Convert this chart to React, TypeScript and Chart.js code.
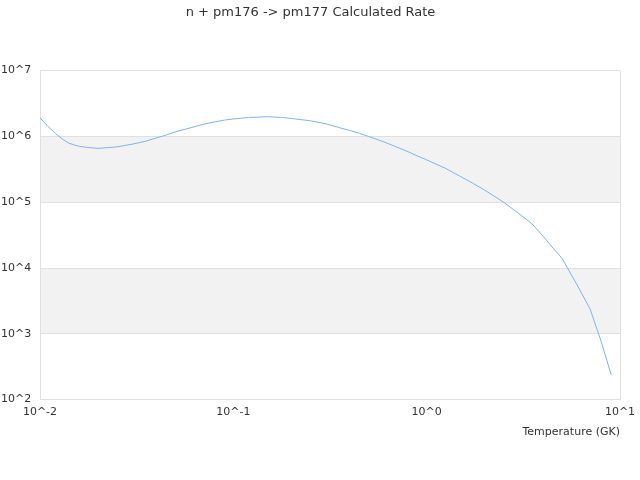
import { useEffect, useRef } from "react"
import { Chart, registerables } from "chart.js"

Chart.register(...registerables)

// temperatura em GK e taxa calculada
const temperatures = [
  0.01, 0.011, 0.012, 0.013, 0.014, 0.015, 0.016, 0.018, 0.02, 0.025, 0.03, 0.035, 0.04, 0.045, 0.05,
  0.06, 0.07, 0.08, 0.09, 0.1, 0.12, 0.15, 0.18, 0.2, 0.25, 0.3, 0.35, 0.4, 0.45, 0.5, 0.6, 0.7, 0.8,
  0.9, 1, 1.25, 1.5, 1.75, 2, 2.5, 3, 3.5, 4, 4.5, 5, 6, 7, 8, 9,
]
const rates = [
  1.91e6, 1.42e6, 1.11e6, 9.2e5, 7.97e5, 7.44e5, 7.05e5, 6.74e5, 6.58e5, 6.93e5, 7.62e5, 8.4e5, 9.48e5,
  1.05e6, 1.17e6, 1.35e6, 1.53e6, 1.66e6, 1.77e6, 1.84e6, 1.94e6, 1.99e6, 1.94e6, 1.87e6, 1.73e6, 1.56e6,
  1.37e6, 1.23e6, 1.11e6, 1.0e6, 8.26e5, 6.89e5, 5.86e5, 5.01e5, 4.4e5, 3.27e5, 2.45e5, 1.91e5, 1.52e5,
  1.0e5, 6.7e4, 4.72e4, 3.05e4, 2.01e4, 1.42e4, 5.53e3, 2.39e3, 7.57e2, 2.39e2,
]
const xPowers = [-2, -1, 0, 1]
const yPowers = [2, 3, 4, 5, 6, 7]
const shadedBands = [
  [1e3, 1e4],
  [1e5, 1e6],
]

const bandPlugin = {
  id: "bands",
  beforeDraw(chart: any) {
    const { ctx, chartArea, scales } = chart
    ctx.save()
    ctx.fillStyle = "#f2f2f2"
    for (const [lo, hi] of shadedBands) {
      const top = scales.y.getPixelForValue(hi)
      const bottom = scales.y.getPixelForValue(lo)
      ctx.fillRect(chartArea.left, top, chartArea.right - chartArea.left, bottom - top)
    }
    ctx.restore()
  },
}

export default function App() {
  const chartRef = useRef<HTMLCanvasElement>(null)
  const chartInstance = useRef<Chart | null>(null)

  useEffect(() => {
    if (!chartRef.current) return
    if (chartInstance.current) chartInstance.current.destroy()

    Chart.defaults.font.family = "DejaVu Sans"
    Chart.defaults.color = "#333"

    chartInstance.current = new Chart(chartRef.current, {
      type: "line",
      data: {
        datasets: [
          {
            data: temperatures.map((t, i) => ({ x: t, y: rates[i] })),
            borderColor: "#7cb5ec",
            borderWidth: 1,
            pointRadius: 0,
            tension: 0,
          },
        ],
      },
      options: {
        animation: false,
        responsive: true,
        maintainAspectRatio: false,
        layout: { padding: { left: 1, right: 20, bottom: 37 } },
        plugins: {
          legend: { display: false },
          tooltip: { enabled: false },
          title: {
            display: true,
            text: "n + pm176 -> pm177 Calculated Rate",
            font: { size: 13, weight: "normal" },
            color: "#333",
            padding: { top: 5, bottom: 50 },
          },
        },
        scales: {
          x: {
            type: "logarithmic",
            min: 0.01,
            max: 10,
            afterBuildTicks: (scale: any) => {
              scale.ticks = xPowers.map((p) => ({ value: Math.pow(10, p) }))
            },
            afterFit: (scale: any) => {
              scale.paddingLeft = 0
              scale.paddingRight = 0
            },
            ticks: {
              autoSkip: false,
              maxRotation: 0,
              padding: 6,
              font: { size: 11 },
              callback: (v: any) => "10^" + Math.round(Math.log10(Number(v))),
            },
            grid: {
              drawTicks: false,
              color: (c: any) => (c.index === 0 || c.index === xPowers.length - 1 ? "#e0e0e0" : "rgba(0,0,0,0)"),
            },
            border: { display: false },
            title: {
              display: true,
              text: "Temperature (GK)",
              align: "end",
              font: { size: 11 },
              padding: { top: 1 },
            },
          },
          y: {
            type: "logarithmic",
            min: 100,
            max: 1e7,
            afterBuildTicks: (scale: any) => {
              scale.ticks = yPowers.map((p) => ({ value: Math.pow(10, p) }))
            },
            afterFit: (scale: any) => {
              scale.width = 39
            },
            ticks: {
              crossAlign: "far",
              font: { size: 11 },
              callback: (v: any) => "10^" + Math.round(Math.log10(Number(v))),
            },
            grid: { drawTicks: false, color: "#e0e0e0" },
            border: { display: false },
          },
        },
      },
      plugins: [bandPlugin],
    })

    return () => {
      if (chartInstance.current) {
        chartInstance.current.destroy()
        chartInstance.current = null
      }
    }
  }, [])

  return (
    <div style={{ position: "absolute", left: 0, top: 0, width: 640, height: 480 }}>
      <canvas ref={chartRef} />
    </div>
  )
}
